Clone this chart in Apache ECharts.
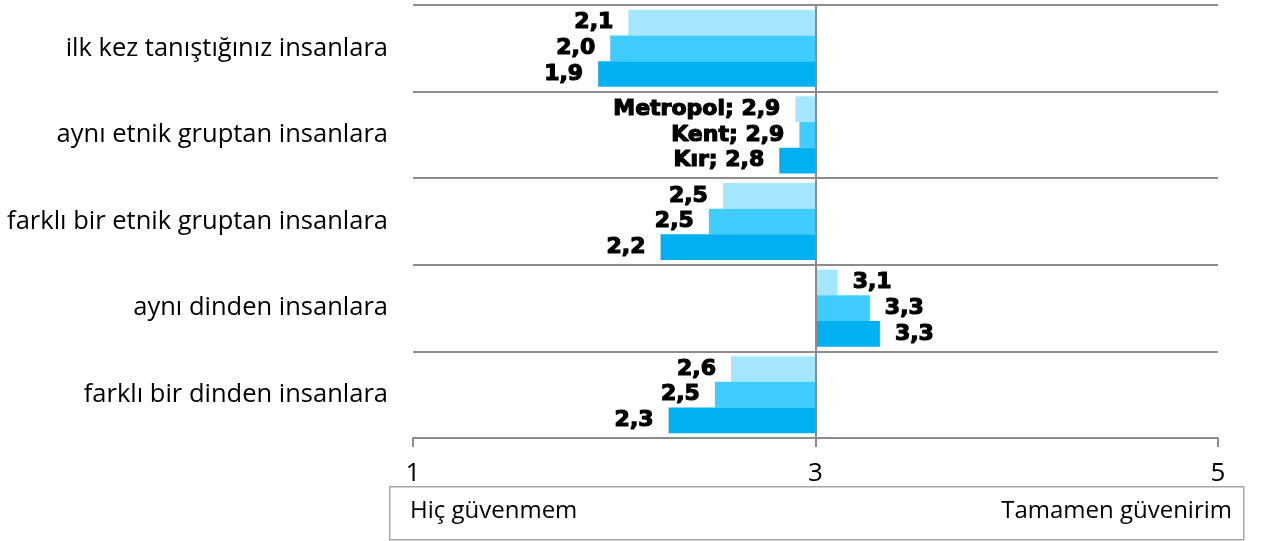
<!DOCTYPE html>
<html lang="tr">
<head>
    <meta charset="UTF-8">
    <title>Güven</title>
    <script src="https://cdn.jsdelivr.net/npm/echarts/dist/echarts.min.js"></script>
    <style>
        html, body { margin: 0; padding: 0; background: #fff; }
        #chart { width: 1261px; height: 541px; }
    </style>
</head>
<body>
<div id="chart"></div>
<script>
    // veriler (ölçek 1-5, çubuklar 3'ten başlar)
    var categories = ['ilk kez tanıştığınız insanlara', 'aynı etnik gruptan insanlara',
        'farklı bir etnik gruptan insanlara', 'aynı dinden insanlara', 'farklı bir dinden insanlara'];
    var seriesNames = ['Metropol', 'Kent', 'Kır'];
    var metropol = [2.07, 2.90, 2.54, 3.11, 2.58];
    var kent = [1.98, 2.92, 2.47, 3.27, 2.50];
    var kir = [1.92, 2.82, 2.23, 3.32, 2.27];
    var colors = ['#a3e6fd', '#3fccff', '#00b0f0'];
    var tickLabels = ['1', '3', '5'];
    var legendRow = 1; // etiketinde seri adı da yazan satır
    var midValue = 3;

    var textFont = '"Open Sans", "Noto Sans", sans-serif';

    function fmt(v) {
        return v.toFixed(1).replace('.', ',');
    }

    function buildSeries(name, values, color, idx) {
        var data = values.map(function (v, i) {
            return {
                value: v - midValue,
                label: {
                    position: v < midValue ? 'left' : 'right',
                    formatter: (i === legendRow ? name + '; ' : '') + fmt(v)
                }
            };
        });
        var s = {
            name: name,
            type: 'bar',
            data: data,
            itemStyle: { color: color },
            barGap: '0%',
            barCategoryGap: '11%',
            label: {
                show: true,
                distance: 15,
                color: '#000',
                fontSize: 22,
                fontWeight: 'bold',
                fontFamily: '"DejaVu Sans", sans-serif',
                textBorderColor: '#000',
                textBorderWidth: 1.2
            }
        };
        if (idx === 0) {
            s.markLine = {
                silent: true,
                symbol: 'none',
                label: { show: false },
                lineStyle: { color: '#8c8c8c', width: 2, type: 'solid' },
                data: [{ xAxis: 0 }]
            };
        }
        return s;
    }

    var chart = echarts.init(document.getElementById('chart'));
    var options = {
        animation: false,
        grid: { left: 413, right: 43, top: 5, bottom: 103, outerBoundsMode: 'none' },
        xAxis: {
            type: 'value',
            min: -2,
            max: 2,
            interval: 2,
            axisLine: { show: true, lineStyle: { color: '#8c8c8c', width: 2 } },
            axisTick: { show: true, length: 9, lineStyle: { color: '#8c8c8c', width: 2 } },
            splitLine: { show: false },
            axisLabel: {
                margin: 23,
                color: '#000',
                fontSize: 26,
                fontFamily: textFont,
                formatter: function (v) { return tickLabels[(v + 2) / 2]; }
            }
        },
        yAxis: {
            type: 'category',
            inverse: true,
            data: categories,
            axisLine: { show: false },
            axisTick: { show: false },
            splitLine: { show: true, lineStyle: { color: '#8c8c8c', width: 2 } },
            axisLabel: {
                margin: 25,
                color: '#000',
                fontSize: 25.5,
                fontFamily: textFont
            }
        },
        series: [
            buildSeries(seriesNames[0], metropol, colors[0], 0),
            buildSeries(seriesNames[1], kent, colors[1], 1),
            buildSeries(seriesNames[2], kir, colors[2], 2)
        ],
        graphic: [
            {
                type: 'rect',
                left: 389, top: 486,
                shape: { width: 854, height: 53 },
                style: { fill: '#fff', stroke: '#a6a6a6', lineWidth: 1.5 }
            },
            {
                type: 'text',
                left: 410, top: 499,
                style: { text: 'Hiç güvenmem', fontSize: 24, fill: '#000', fontFamily: textFont }
            },
            {
                type: 'text',
                right: 29, top: 499,
                style: { text: 'Tamamen güvenirim', fontSize: 24, fill: '#000', fontFamily: textFont }
            }
        ]
    };
    chart.setOption(options);
</script>
</body>
</html>
